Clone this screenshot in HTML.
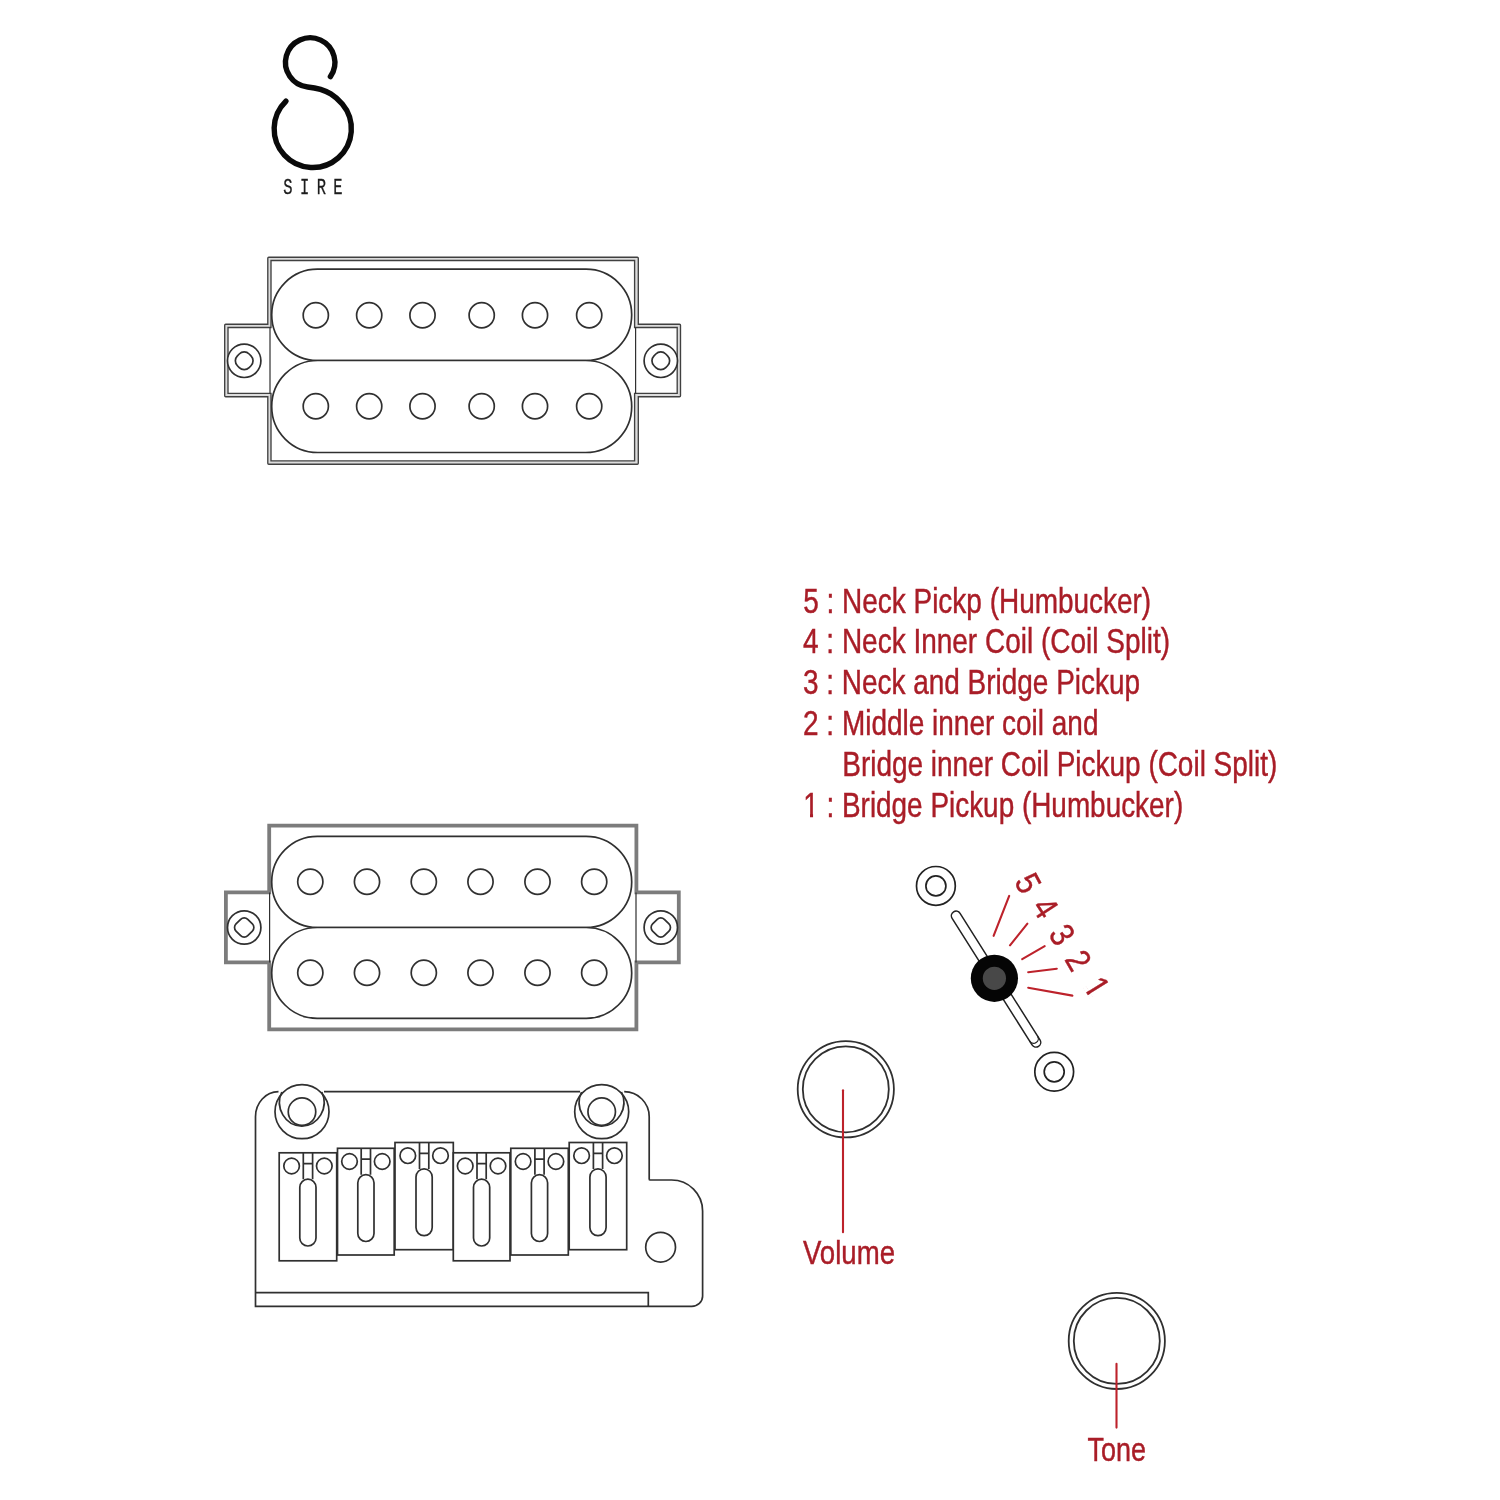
<!DOCTYPE html>
<html lang="en"><head><meta charset="utf-8"><title>Sire pickup selector diagram</title>
<style>
html,body{margin:0;padding:0;background:#fff;}
body{width:1500px;height:1500px;overflow:hidden;}
svg{display:block;will-change:transform;}
</style></head>
<body>
<svg width="1500" height="1500" viewBox="0 0 1500 1500">
<rect width="1500" height="1500" fill="#fff"/>
<g fill="none" stroke="#303030" stroke-width="1.7">
<path d="M269.4 325.84999999999997 V258.84999999999997 H636.45 V325.84999999999997 H678.85 V395.05 H636.45 V462.55 H269.4 V395.05 H226.35 V325.84999999999997 Z" stroke-width="3.3" stroke="#dcdcdc"/>
<path d="M267.8 324.2 V258.2 Q267.8 257.2 268.8 257.2 H637.3 Q638.3 257.2 638.3 258.2 V324.2 H679.5 Q680.5 324.2 680.5 325.2 V395.7 Q680.5 396.7 679.5 396.7 H638.3 V463.2 Q638.3 464.2 637.3 464.2 H268.8 Q267.8 464.2 267.8 463.2 V396.7 H225.7 Q224.7 396.7 224.7 395.7 V325.2 Q224.7 324.2 225.7 324.2 Z" stroke-width="1.35" stroke="#404040"/>
<path d="M271.0 327.5 V260.5 H634.6 V327.5 H677.2 V393.4 H634.6 V460.9 H271.0 V393.4 H228 V327.5 Z" stroke-width="1.35" stroke="#404040"/>
<path d="M270.0 327.5 V393.4 M635.6 327.5 V393.4" stroke-width="1.2"/>
<rect x="271.7" y="269.2" width="360.00000000000006" height="91.30000000000001" rx="45.650000000000006" ry="45.650000000000006" fill="#fff"/>
<rect x="271.7" y="360.5" width="360.00000000000006" height="92.0" rx="46.0" ry="46.0" fill="#fff"/>
<circle cx="315.8" cy="315.3" r="12.6"/>
<circle cx="315.8" cy="406.2" r="12.6"/>
<circle cx="369.2" cy="315.3" r="12.6"/>
<circle cx="369.2" cy="406.2" r="12.6"/>
<circle cx="422.5" cy="315.3" r="12.6"/>
<circle cx="422.5" cy="406.2" r="12.6"/>
<circle cx="481.7" cy="315.3" r="12.6"/>
<circle cx="481.7" cy="406.2" r="12.6"/>
<circle cx="535" cy="315.3" r="12.6"/>
<circle cx="535" cy="406.2" r="12.6"/>
<circle cx="589.2" cy="315.3" r="12.6"/>
<circle cx="589.2" cy="406.2" r="12.6"/>
<circle cx="244.2" cy="360.8" r="16.7" fill="#fff"/>
<rect x="235.89999999999998" y="352.5" width="16.6" height="16.6" rx="7" transform="rotate(45 244.2 360.8)"/>
<circle cx="660.8" cy="360.8" r="16.7" fill="#fff"/>
<rect x="652.5" y="352.5" width="16.6" height="16.6" rx="7" transform="rotate(45 660.8 360.8)"/>
<path d="M269.2 892.4 V825.6 H636.4 V892.4 H678.8 V962.4 H636.4 V1029.3000000000002 H269.2 V962.4 H225.9 V892.4 Z" stroke-width="3.8" stroke="#7c7c7c"/>
<path d="M269.59999999999997 892.4 V962.4 M636.0 892.4 V962.4" stroke-width="1.2"/>
<rect x="271.7" y="836.3" width="360.00000000000006" height="91.20000000000005" rx="45.60000000000002" ry="45.60000000000002" fill="#fff"/>
<rect x="271.7" y="927.5" width="360.00000000000006" height="90.79999999999995" rx="45.39999999999998" ry="45.39999999999998" fill="#fff"/>
<circle cx="310.3" cy="881.7" r="12.6"/>
<circle cx="310.3" cy="972.8" r="12.6"/>
<circle cx="367" cy="881.7" r="12.6"/>
<circle cx="367" cy="972.8" r="12.6"/>
<circle cx="423.8" cy="881.7" r="12.6"/>
<circle cx="423.8" cy="972.8" r="12.6"/>
<circle cx="480.5" cy="881.7" r="12.6"/>
<circle cx="480.5" cy="972.8" r="12.6"/>
<circle cx="537.5" cy="881.7" r="12.6"/>
<circle cx="537.5" cy="972.8" r="12.6"/>
<circle cx="594.2" cy="881.7" r="12.6"/>
<circle cx="594.2" cy="972.8" r="12.6"/>
<circle cx="244.2" cy="927.5" r="16.7" fill="#fff"/>
<rect x="235.89999999999998" y="919.2" width="16.6" height="16.6" rx="5" transform="rotate(45 244.2 927.5)"/>
<circle cx="660.8" cy="927.5" r="16.7" fill="#fff"/>
<rect x="652.5" y="919.2" width="16.6" height="16.6" rx="5" transform="rotate(45 660.8 927.5)"/>
<path d="M278.5 1091.7 A23 25 0 0 0 255.5 1116.7 V1306.3 H691.7 A10.8 10 0 0 0 702.6 1296.3 V1211 A31 31 0 0 0 671.6 1180 H650.2 A1 1 0 0 1 649.2 1179 V1116.7 A25 25 0 0 0 624.2 1091.7" />
<path d="M324 1091.7 H580" />
<path d="M255.5 1292.6 H648.3 V1306.3" />
<circle cx="660.6" cy="1247.2" r="14.9"/>
<circle cx="302.0" cy="1111.7" r="27" fill="#fff"/>
<circle cx="302.0" cy="1111.7" r="13.75"/>
<path d="M281.8 1092.0 A22.3 23.6 0 1 0 321.8 1092.0"/>
<circle cx="601.7" cy="1111.7" r="27" fill="#fff"/>
<circle cx="601.7" cy="1111.7" r="13.75"/>
<path d="M581.5 1092.0 A22.3 23.6 0 1 0 621.5 1092.0"/>
<rect x="279.2" y="1152.8" width="57.5" height="108.0" fill="#fff"/>
<circle cx="291.6" cy="1166.0" r="7.8"/>
<circle cx="324.3" cy="1166.0" r="7.8"/>
<path d="M303.3 1152.8 V1179.2 M312.6 1152.8 V1179.2 M303.3 1163.6 H312.6"/>
<rect x="299.8" y="1179.2" width="16.2" height="66.8" rx="8.1"/>
<rect x="337.5" y="1148.3" width="56.69999999999999" height="106.70000000000005" fill="#fff"/>
<circle cx="349.5" cy="1161.5" r="7.8"/>
<circle cx="382.2" cy="1161.5" r="7.8"/>
<path d="M361.2 1148.3 V1174.7 M370.5 1148.3 V1174.7 M361.2 1159.1 H370.5"/>
<rect x="357.8" y="1174.7" width="16.2" height="66.8" rx="8.1"/>
<rect x="395.0" y="1142.5" width="58.30000000000001" height="107.20000000000005" fill="#fff"/>
<circle cx="407.8" cy="1155.7" r="7.8"/>
<circle cx="440.5" cy="1155.7" r="7.8"/>
<path d="M419.5 1142.5 V1168.9 M428.8 1142.5 V1168.9 M419.5 1153.3 H428.8"/>
<rect x="416.0" y="1168.9" width="16.2" height="66.8" rx="8.1"/>
<rect x="453.3" y="1152.8" width="56.69999999999999" height="108.0" fill="#fff"/>
<circle cx="465.2" cy="1166.0" r="7.8"/>
<circle cx="498.0" cy="1166.0" r="7.8"/>
<path d="M477.0 1152.8 V1179.2 M486.2 1152.8 V1179.2 M477.0 1163.6 H486.2"/>
<rect x="473.5" y="1179.2" width="16.2" height="66.8" rx="8.1"/>
<rect x="510.8" y="1148.3" width="57.49999999999994" height="106.70000000000005" fill="#fff"/>
<circle cx="523.1" cy="1161.5" r="7.8"/>
<circle cx="555.9" cy="1161.5" r="7.8"/>
<path d="M534.9 1148.3 V1174.7 M544.1 1148.3 V1174.7 M534.9 1159.1 H544.1"/>
<rect x="531.4" y="1174.7" width="16.2" height="66.8" rx="8.1"/>
<rect x="569.2" y="1142.5" width="57.5" height="107.20000000000005" fill="#fff"/>
<circle cx="581.6" cy="1155.7" r="7.8"/>
<circle cx="614.4" cy="1155.7" r="7.8"/>
<path d="M593.4 1142.5 V1168.9 M602.6 1142.5 V1168.9 M593.4 1153.3 H602.6"/>
<rect x="589.9" y="1168.9" width="16.2" height="66.8" rx="8.1"/>
<circle cx="845.8" cy="1089.3" r="48.1" stroke-width="1.8"/>
<circle cx="845.8" cy="1089.3" r="43.0" stroke-width="1.8"/>
<circle cx="1116.8" cy="1340.9" r="48.1" stroke-width="1.8"/>
<circle cx="1116.8" cy="1340.9" r="43.0" stroke-width="1.8"/>
<circle cx="935.9" cy="885.9" r="19.4" stroke-width="1.7" stroke="#222"/>
<circle cx="935.9" cy="885.9" r="10" stroke-width="1.7" stroke="#222"/>
<circle cx="1054.2" cy="1071.8" r="19.4" stroke-width="1.7" stroke="#222"/>
<circle cx="1054.2" cy="1071.8" r="10" stroke-width="1.7" stroke="#222"/>
</g>
<g transform="translate(956.1 915.8) rotate(57.74)"><rect x="-4.7" y="-4.7" width="159.1" height="9.4" rx="4.7" fill="#fff" stroke="#222" stroke-width="1.5"/><path d="M145.2 -4.7 A4.7 4.7 0 0 1 145.2 4.7" fill="none" stroke="#222" stroke-width="1.3"/></g>
<circle cx="994.4" cy="978.3" r="23.6" fill="#050505"/>
<circle cx="994.4" cy="978.3" r="11.6" fill="#484848"/>
<g stroke="#bd222b" stroke-width="2.1" stroke-linecap="round" fill="none">
<line x1="1009.2" y1="895.9" x2="993.6" y2="935.8"/>
<line x1="1027.4" y1="923.7" x2="1010" y2="945.3"/>
<line x1="1044.7" y1="946.2" x2="1022.2" y2="959.2"/>
<line x1="1056.8" y1="968.7" x2="1028.2" y2="972.2"/>
<line x1="1072.4" y1="995.6" x2="1028.2" y2="987.8"/>
<line x1="843" y1="1090.2" x2="843" y2="1232.3"/>
<line x1="1116.5" y1="1363.9" x2="1116.5" y2="1427.6"/>
</g>
<g fill="#a91d27" font-family="'Liberation Sans', Arial, sans-serif">
<text x="803.2" y="612.7" font-size="35.6" textLength="348" lengthAdjust="spacingAndGlyphs" stroke="#a91d27" stroke-width="0.45" >5 : Neck Pickp (Humbucker)</text>
<text x="803.0" y="653.1" font-size="35.6" textLength="367" lengthAdjust="spacingAndGlyphs" stroke="#a91d27" stroke-width="0.45" >4 : Neck Inner Coil (Coil Split)</text>
<text x="803.0" y="694.1" font-size="35.6" textLength="337" lengthAdjust="spacingAndGlyphs" stroke="#a91d27" stroke-width="0.45" >3 : Neck and Bridge Pickup</text>
<text x="803.0" y="735.1" font-size="35.6" textLength="295.5" lengthAdjust="spacingAndGlyphs" stroke="#a91d27" stroke-width="0.45" >2 : Middle inner coil and</text>
<text x="842.3" y="776.0" font-size="35.6" textLength="435" lengthAdjust="spacingAndGlyphs" stroke="#a91d27" stroke-width="0.45" >Bridge inner Coil Pickup (Coil Split)</text>
<text x="803.2" y="816.8" font-size="35.6" textLength="380" lengthAdjust="spacingAndGlyphs" stroke="#a91d27" stroke-width="0.45" >1 : Bridge Pickup (Humbucker)</text>
<path d="M804.0 813.4 H810.0 V818.4 H804.0 Z M813.05 813.4 H818.6 V818.4 H813.05 Z" fill="#fff"/>
<text x="803" y="1263.8" font-size="33" textLength="92" lengthAdjust="spacingAndGlyphs" stroke="#a91d27" stroke-width="0.45" >Volume</text>
<text x="1087.5" y="1461.4" font-size="33" textLength="58.5" lengthAdjust="spacingAndGlyphs" stroke="#a91d27" stroke-width="0.45" >Tone</text>
<text x="0" y="0" font-size="34.5" text-anchor="middle" stroke="#a91d27" stroke-width="0.4" transform="translate(1028.5 883.0) rotate(62) scale(0.86 1) translate(0 12.25)">5</text>
<text x="0" y="0" font-size="34.5" text-anchor="middle" stroke="#a91d27" stroke-width="0.4" transform="translate(1045.8 907.6) rotate(57) scale(0.86 1) translate(0 12.25)">4</text>
<text x="0" y="0" font-size="34.5" text-anchor="middle" stroke="#a91d27" stroke-width="0.4" transform="translate(1062.4 934.5) rotate(58) scale(0.86 1) translate(0 12.25)">3</text>
<text x="0" y="0" font-size="34.5" text-anchor="middle" stroke="#a91d27" stroke-width="0.4" transform="translate(1078.8 960.2) rotate(60) scale(0.86 1) translate(0 12.25)">2</text>
<text x="0" y="0" font-size="34.5" text-anchor="middle" stroke="#a91d27" stroke-width="0.4" transform="translate(1097.3 986.8) rotate(58) scale(0.86 1) translate(0 12.25)">1</text>
<g transform="translate(1097.3 986.8) rotate(58) scale(0.86 1) translate(0 12.25)" fill="#fff"><rect x="-8.11" y="-3.19" width="6.68" height="3.99"/><rect x="2.60" y="-3.19" width="6.55" height="3.99"/></g>
</g>
<path d="M330.4 76.6 A24.7 24.7 0 1 0 307.6 87.0 C329.0 89.3 336.5 97.2 342.3 104.1 A38.6 38.6 0 1 1 285.9 101.2" fill="none" stroke="#0a0a0a" stroke-width="5.4" stroke-linecap="round"/>
<text transform="scale(0.72 1)" x="400.00 423.06 446.39 469.44" y="194.3" text-anchor="middle" font-family="'Liberation Mono', monospace" font-size="21.5" fill="#1c1c1c" stroke="#1c1c1c" stroke-width="0.3">SIRE</text>
</svg>
</body></html>
